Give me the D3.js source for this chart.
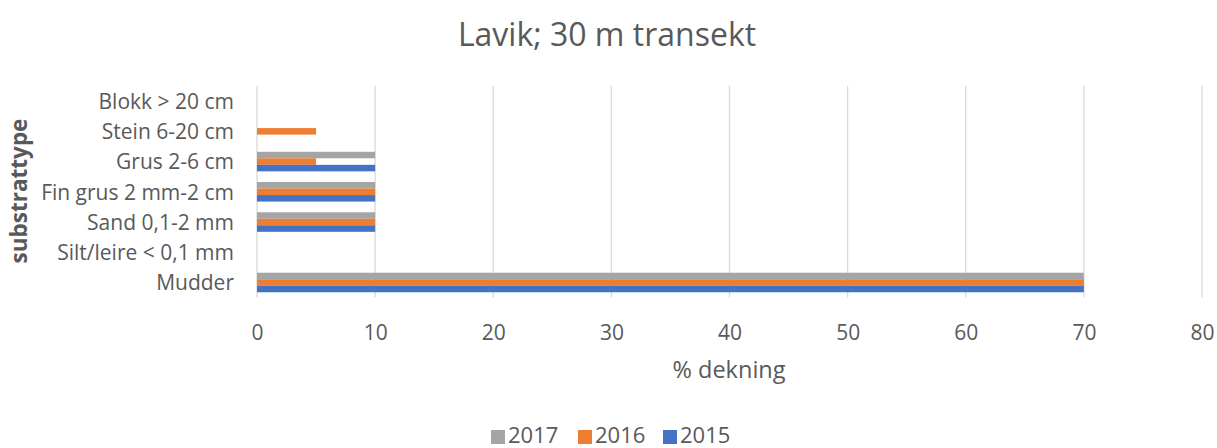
<!DOCTYPE html>
<html><head><meta charset="utf-8">
<script src="https://cdn.jsdelivr.net/npm/d3@7"></script>
<style>body{margin:0;background:#fff;} text{font-family:"Open Sans", sans-serif;}</style>
</head><body>
<svg id="c" width="1217" height="448"></svg>
<script>
const categories = ["Blokk > 20 cm","Stein 6-20 cm","Grus 2-6 cm","Fin grus 2 mm-2 cm","Sand 0,1-2 mm","Silt/leire < 0,1 mm","Mudder"];
const seriesNames = ["2017","2016","2015"];
const values2017 = [0,0,10,10,10,0,70];
const values2016 = [0,5,5,10,10,0,70];
const values2015 = [0,0,10,10,10,0,70];
const xTicks = [0,10,20,30,40,50,60,70,80];
const colors = {"2017":"#A5A5A5","2016":"#ED7D31","2015":"#4472C4"};
const seriesValues = {"2017":values2017,"2016":values2016,"2015":values2015};

(function(){
const FONT = "'Open Sans', sans-serif";
const svg = d3.select("#c");
const pLeft = 257, pRight = 1202, pTop = 86, pBottom = 297.6;
const x = d3.scaleLinear().domain([0,80]).range([pLeft,pRight]);
const y = d3.scaleBand().domain(categories).range([pTop,pBottom]).paddingInner(0).paddingOuter(0);
const inner = d3.scaleBand().domain(seriesNames).range([0,y.bandwidth()]).paddingInner(0).paddingOuter(0.82);

svg.append("g").selectAll("line").data(xTicks).join("line")
  .attr("x1",d=>x(d)).attr("x2",d=>x(d)).attr("y1",pTop).attr("y2",pBottom)
  .attr("stroke","#D9D9D9").attr("stroke-width",1.3);

const g = svg.append("g");
categories.forEach((c,i)=>{
  seriesNames.forEach(s=>{
    const v = seriesValues[s][i];
    if(v>0){
      g.append("rect").attr("x",x(0)).attr("y",y(c)+inner(s))
        .attr("width",x(v)-x(0)).attr("height",inner.bandwidth())
        .attr("fill",colors[s]);
    }
  });
});

const xAxis = d3.axisBottom(x).tickValues(xTicks).tickSize(0).tickPadding(0);
const xa = svg.append("g").attr("transform",`translate(0,${pBottom+27})`).call(xAxis);
xa.select(".domain").remove();
xa.selectAll("text").attr("font-size",21).attr("fill","#595959").style("font-family",FONT);

const yAxis = d3.axisLeft(y).tickSize(0).tickPadding(0);
const ya = svg.append("g").attr("transform",`translate(${pLeft-23},1)`).call(yAxis);
ya.select(".domain").remove();
ya.selectAll("text").attr("font-size",21).attr("fill","#595959").style("font-family",FONT);

svg.append("text").attr("x",607).attr("y",46).attr("text-anchor","middle")
  .attr("font-size",32).attr("fill","#595959").text("Lavik; 30 m transekt");
svg.append("text").attr("x",729).attr("y",378).attr("text-anchor","middle")
  .attr("font-size",23.5).attr("fill","#595959").text("% dekning");
svg.append("text").attr("transform","translate(27,191) rotate(-90)").attr("text-anchor","middle")
  .attr("font-size",22.5).attr("font-weight","bold").attr("fill","#595959").text("substrattype");

const legendX = [491,578,663];
const lg = svg.append("g");
seriesNames.forEach((s,i)=>{
  lg.append("rect").attr("x",legendX[i]).attr("y",430).attr("width",14).attr("height",14).attr("fill",colors[s]);
  lg.append("text").attr("x",legendX[i]+17).attr("y",443).attr("font-size",22).attr("fill","#595959").text(s);
});
})();
</script>
</body></html>
